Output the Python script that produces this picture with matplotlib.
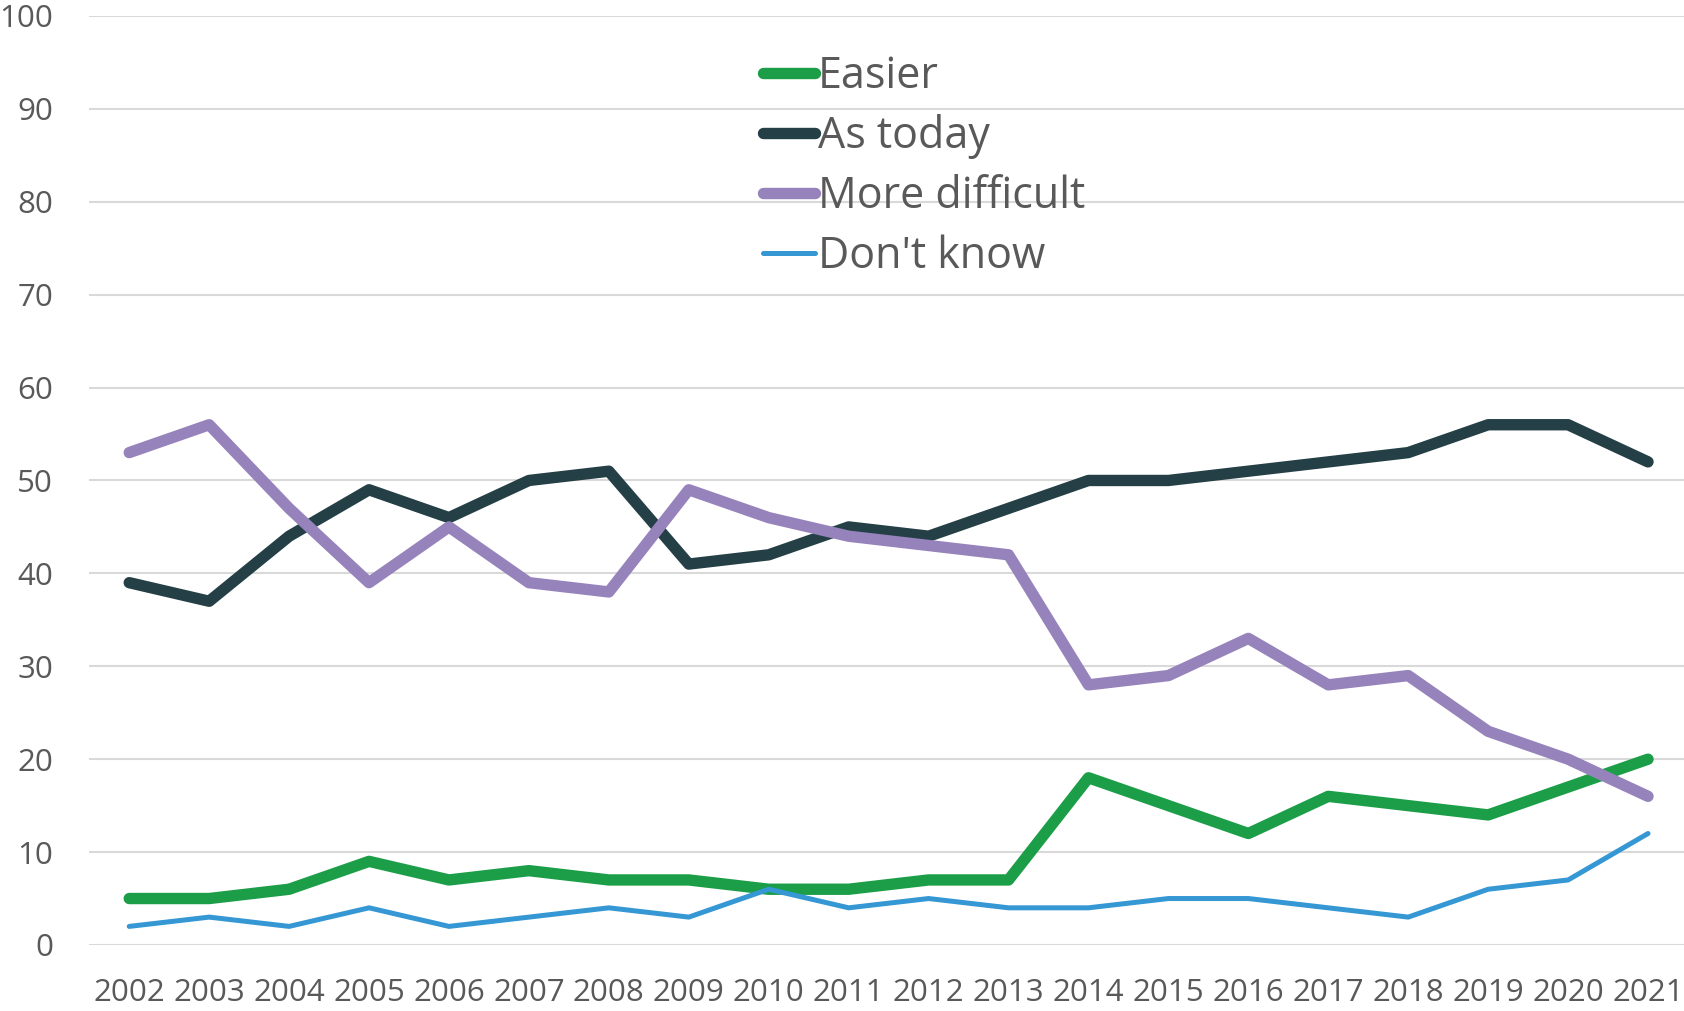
import matplotlib
matplotlib.use('Agg')
import matplotlib.pyplot as plt

years = list(range(2002, 2022))
easier = [5, 5, 6, 9, 7, 8, 7, 7, 6, 6, 7, 7, 18, 15, 12, 16, 15, 14, 17, 20]
as_today = [39, 37, 44, 49, 46, 50, 51, 41, 42, 45, 44, 47, 50, 50, 51, 52, 53, 56, 56, 52]
more_difficult = [53, 56, 47, 39, 45, 39, 38, 49, 46, 44, 43, 42, 28, 29, 33, 28, 29, 23, 20, 16]
dont_know = [2, 3, 2, 4, 2, 3, 4, 3, 6, 4, 5, 4, 4, 5, 5, 4, 3, 6, 7, 12]

plt.rcParams['font.family'] = ['Open Sans', 'DejaVu Sans']
text_color = '#595959'

fig = plt.figure(figsize=(16.84, 10.11), dpi=100)
ax = fig.add_axes([0.053, 0.0653, 0.947, 0.9189])

ax.plot(years, easier, color='#1c9e48', lw=8.2, solid_capstyle='round', label='Easier', zorder=3)
ax.plot(years, as_today, color='#243f45', lw=8.2, solid_capstyle='round', label='As today', zorder=3)
ax.plot(years, more_difficult, color='#9783bb', lw=8.2, solid_capstyle='round', label='More difficult', zorder=3)
ax.plot(years, dont_know, color='#3597d3', lw=3.6, solid_capstyle='round', label="Don't know", zorder=3)

ax.set_xlim(2001.5, 2021.45)
ax.set_ylim(0, 100)
ax.set_yticks(range(0, 101, 10))
ax.set_xticks(years)
ax.set_xticklabels([str(y) for y in years])
ax.grid(axis='y', color='#d9d9d9', lw=1.5)
ax.set_axisbelow(True)
for s in ax.spines.values():
    s.set_visible(False)
ax.tick_params(axis='both', length=0, labelsize=22.5, colors=text_color)
ax.tick_params(axis='y', pad=26)
ax.tick_params(axis='x', pad=24)

leg = fig.legend(loc='upper left', bbox_to_anchor=(0.453, 0.946), frameon=False,
                 fontsize=31, handlelength=1.2, handletextpad=0.08, labelspacing=0.355,
                 borderpad=0, borderaxespad=0)
for t in leg.get_texts():
    t.set_color(text_color)

fig.savefig('out.png', dpi=100)
